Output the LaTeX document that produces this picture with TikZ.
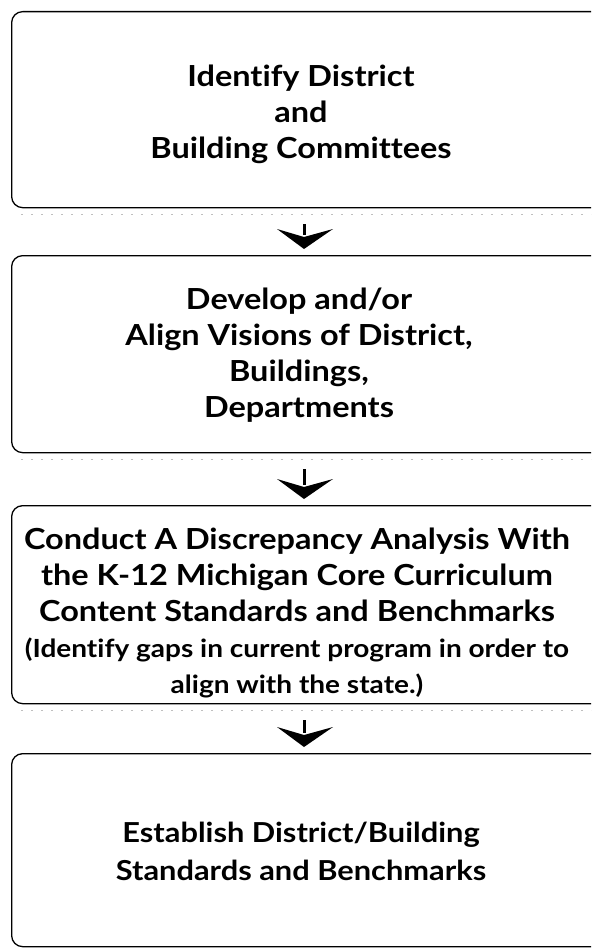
\documentclass[tikz,border=0pt]{standalone}
\usepackage{fontspec}
\setmainfont{Lato}[UprightFont={* Bold},FakeStretch=1.12,Ligatures=NoCommon]
\begin{document}
\begin{tikzpicture}[x=1pt,y=-1pt,
  stepbox/.style={draw=black,line width=1.3pt,rounded corners=11pt,inner sep=0pt},
  steptext/.style={align=center,font=\fontsize{29}{36}\selectfont,inner sep=0pt},
  stem/.style={line width=3pt},
  noise/.style={gray!50,line width=0.6pt,dash pattern=on 2pt off 8pt}]
\useasboundingbox (0,0) rectangle (591,952);
\clip (0,0) rectangle (591,952);
\fill[white] (0,0) rectangle (591,952);
% boxes
\node[stepbox,minimum width=600pt,minimum height=196pt,anchor=north west] (b1) at (11,11) {};
\node[stepbox,minimum width=600pt,minimum height=197pt,anchor=north west] (b2) at (11,255) {};
\node[stepbox,minimum width=600pt,minimum height=198pt,anchor=north west] (b3) at (11,505) {};
\node[stepbox,minimum width=600pt,minimum height=193pt,anchor=north west] (b4) at (11,753) {};
% texts
\node[steptext] (t1) at (301,114) {Identify District\\and\\Building Committees};
\node[steptext] (t2) at (299,355) {Develop and/or\\Align Visions of District,\\Buildings,\\Departments};
\node[steptext] (t3) at (297,613) {Conduct A Discrepancy Analysis With\\the K-12 Michigan Core Curriculum\\Content Standards and Benchmarks\\{\fontsize{25}{35}\selectfont (Identify gaps in current program in order to}\\{\fontsize{25}{35}\selectfont align with the state.)}};
\node[steptext,font=\fontsize{27.5}{38}\selectfont] (t4) at (301,851) {Establish District/Building\\Standards and Benchmarks};
% scan noise under boxes
\foreach \b in {b1,b2,b3} \draw[noise] ([xshift=10pt,yshift=-6pt]\b.south west) -- ([yshift=-6pt]\b.south east);
% connectors
\foreach \a/\b in {b1/b2,b2/b3,b3/b4} {
  \coordinate (s-\a) at ([yshift=-16pt]\a.south west -| 304,0);
  \coordinate (e-\a) at ([yshift=6pt]\b.north west -| 304,0);
  \draw[stem] (s-\a) -- ([yshift=14pt]e-\a);
  \fill (e-\a) -- ++(-27,-20) -- ++(27,8) -- ++(29,-8) -- cycle;
}
\end{tikzpicture}
\end{document}
